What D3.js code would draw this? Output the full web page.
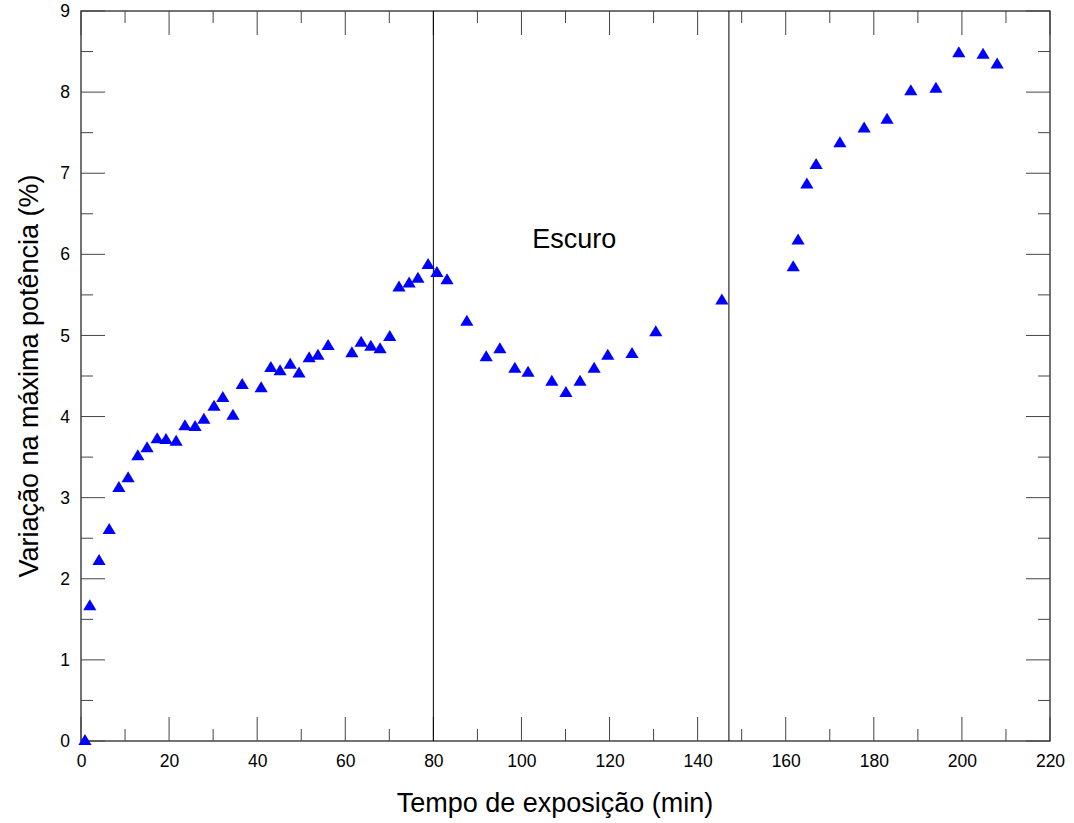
<!DOCTYPE html>
<html>
<head>
<meta charset="utf-8">
<script src="https://cdn.jsdelivr.net/npm/d3@7"></script>
<style>
  body { margin: 0; background: #fff; }
  svg { font-family: "Liberation Sans", Arial, sans-serif; }
</style>
</head>
<body>
<svg id="chart" width="1074" height="823"></svg>
<script>
// tempo de exposição (min)
const tempo = [0.9, 2.0, 4.1, 6.4, 8.6, 10.7, 12.9, 15.0, 17.3, 19.3, 21.6, 23.6, 25.9, 27.9,
  30.2, 32.2, 34.5, 36.6, 40.9, 43.1, 45.2, 47.5, 49.5, 51.8, 53.8, 56.1, 61.5, 63.6, 65.8,
  67.9, 70.1, 72.2, 74.5, 76.5, 78.8, 80.8, 83.1, 87.6, 92.0, 95.1, 98.5, 101.5, 106.9,
  110.1, 113.3, 116.5, 119.6, 125.1, 130.5, 145.5, 161.7, 162.8, 164.8, 166.9, 172.3,
  177.8, 183.0, 188.4, 194.1, 199.3, 204.8, 208.0];
// variação na máxima potência (%)
const variacao = [0.0, 1.66, 2.22, 2.60, 3.12, 3.24, 3.51, 3.61, 3.72, 3.71, 3.69, 3.88, 3.87, 3.96,
  4.12, 4.23, 4.01, 4.39, 4.35, 4.60, 4.56, 4.64, 4.53, 4.72, 4.75, 4.87, 4.78, 4.91, 4.86,
  4.83, 4.98, 5.59, 5.64, 5.70, 5.87, 5.77, 5.68, 5.17, 4.73, 4.83, 4.59, 4.54, 4.43,
  4.29, 4.43, 4.59, 4.75, 4.77, 5.04, 5.43, 5.84, 6.17, 6.86, 7.10, 7.37,
  7.55, 7.66, 8.01, 8.04, 8.48, 8.46, 8.34];
// limites do período no escuro
const escuroLimites = [80, 147.1];
const xTicks = d3.range(0, 221, 20);
const yTicks = d3.range(0, 10, 1);

const svg = d3.select("#chart");
const margin = { top: 11, right: 24, bottom: 82, left: 81 };
const W = 1074, H = 823;

const x = d3.scaleLinear().domain([0, 220]).range([margin.left, W - margin.right]);
const y = d3.scaleLinear().domain([0, 9]).range([H - margin.bottom, margin.top]);

const axisColor = "#444";

// ticks em todos os lados (para dentro)
const xMinor = d3.range(10, 220, 20);
const yMinor = d3.range(0.5, 9, 1);

svg.append("g")
  .attr("transform", `translate(0,${y(0)})`)
  .call(d3.axisBottom(x).tickValues(xTicks).tickSize(0).tickPadding(14))
  .call(g => g.select(".domain").remove())
  .call(g => g.selectAll("text").attr("font-size", 17.5).attr("fill", "#000"));

svg.append("g")
  .attr("transform", `translate(${x(0)},0)`)
  .call(d3.axisLeft(y).tickValues(yTicks).tickSize(0).tickPadding(11))
  .call(g => g.select(".domain").remove())
  .call(g => g.selectAll("text").attr("font-size", 17.5).attr("fill", "#000"));

const ticks = svg.append("g").attr("stroke", axisColor).attr("stroke-width", 1);
const tickData = [
  ...xTicks.map(v => ({ v, len: 24, axis: "x" })),
  ...xMinor.map(v => ({ v, len: 12, axis: "x" })),
  ...yTicks.map(v => ({ v, len: 24, axis: "y" })),
  ...yMinor.map(v => ({ v, len: 12, axis: "y" }))
];
tickData.filter(d => d.axis === "x").forEach(d => {
  ticks.append("line").attr("x1", x(d.v)).attr("x2", x(d.v))
    .attr("y1", y(0)).attr("y2", y(0) - d.len);
  ticks.append("line").attr("x1", x(d.v)).attr("x2", x(d.v))
    .attr("y1", y(9)).attr("y2", y(9) + d.len);
});
tickData.filter(d => d.axis === "y").forEach(d => {
  ticks.append("line").attr("y1", y(d.v)).attr("y2", y(d.v))
    .attr("x1", x(0)).attr("x2", x(0) + d.len);
  ticks.append("line").attr("y1", y(d.v)).attr("y2", y(d.v))
    .attr("x1", x(220)).attr("x2", x(220) - d.len);
});

// moldura
svg.append("rect")
  .attr("x", x(0)).attr("y", y(9))
  .attr("width", x(220) - x(0)).attr("height", y(0) - y(9))
  .attr("fill", "none").attr("stroke", axisColor).attr("stroke-width", 1.5);

// linhas verticais do escuro
svg.selectAll(".limite").data(escuroLimites).enter().append("line")
  .attr("class", "limite")
  .attr("x1", d => x(d)).attr("x2", d => x(d))
  .attr("y1", y(0)).attr("y2", y(9))
  .attr("stroke", "#000").attr("stroke-width", 1);

svg.append("text")
  .attr("x", x(112))
  .attr("y", y(6.08))
  .attr("text-anchor", "middle")
  .attr("font-size", 27)
  .text("Escuro");

// pontos
const tri = "M0,-6L6.6,5L-6.6,5Z";
svg.append("g").selectAll("path")
  .data(tempo.map((t, i) => [t, variacao[i]]))
  .enter().append("path")
  .attr("d", tri)
  .attr("transform", d => `translate(${x(d[0])},${y(d[1]) - 1})`)
  .attr("fill", "#0000ff");

// títulos dos eixos
svg.append("text")
  .attr("x", 555)
  .attr("y", 812)
  .attr("text-anchor", "middle")
  .attr("font-size", 27)
  .text("Tempo de exposição (min)");

svg.append("text")
  .attr("transform", `translate(38,${(y(0) + y(9)) / 2}) rotate(-90)`)
  .attr("text-anchor", "middle")
  .attr("font-size", 27)
  .text("Variação na máxima potência (%)");
</script>
</body>
</html>
